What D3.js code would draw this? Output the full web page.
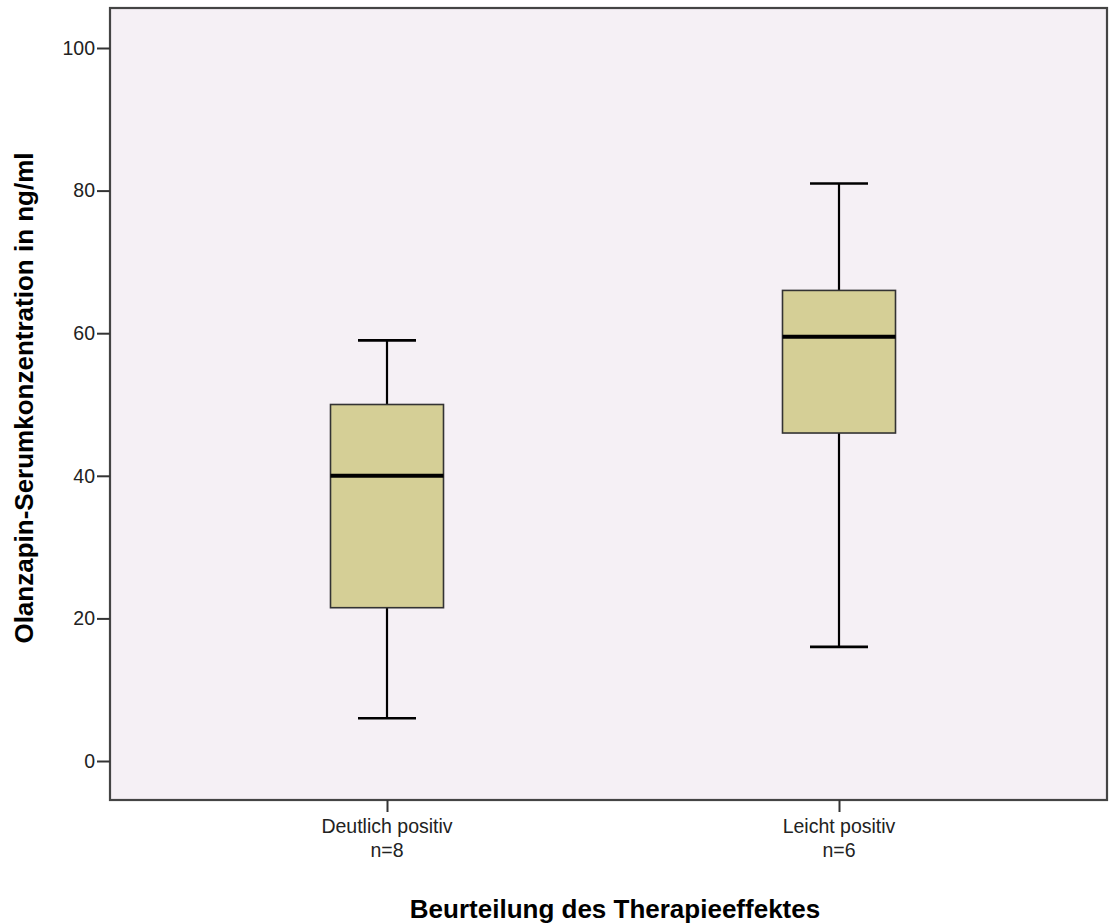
<!DOCTYPE html>
<html>
<head>
<meta charset="utf-8">
<script src="https://cdn.jsdelivr.net/npm/d3@7"></script>
<style>
  html, body { margin: 0; padding: 0; background: #ffffff; }
  svg { display: block; font-family: "Liberation Sans", Arial, sans-serif; }
</style>
</head>
<body>
<svg id="chart" width="1109" height="924"></svg>
<script>
// Box plot: Olanzapine serum concentration by rated therapy effect
const categories = ["Deutlich positiv", "Leicht positiv"];
const sampleSizes = ["n=8", "n=6"];
const whiskerLow = [6, 16];
const quartile1 = [21.5, 46];
const medians = [40, 59.5];
const quartile3 = [50, 66];
const whiskerHigh = [59, 81];
const yTicks = [0, 20, 40, 60, 80, 100];

const svg = d3.select("#chart");
const frame = { left: 110, top: 8, right: 1107, bottom: 800 };

const x = d3.scalePoint()
  .domain(categories)
  .range([387, 839]);

const y = d3.scaleLinear()
  .domain([0, 100])
  .range([761, 48]);

// plot background
svg.append("rect")
  .attr("x", frame.left).attr("y", frame.top)
  .attr("width", frame.right - frame.left)
  .attr("height", frame.bottom - frame.top)
  .attr("fill", "#f5f0f5");

const boxWidth = 113;
const capWidth = 58;

const data = categories.map((c, i) => ({
  cat: c, lo: whiskerLow[i], q1: quartile1[i], med: medians[i], q3: quartile3[i], hi: whiskerHigh[i]
}));

const g = svg.append("g");
data.forEach(d => {
  const cx = x(d.cat);
  // whiskers
  g.append("line").attr("x1", cx).attr("x2", cx)
    .attr("y1", y(d.hi)).attr("y2", y(d.q3))
    .attr("stroke", "#000").attr("stroke-width", 2.2);
  g.append("line").attr("x1", cx).attr("x2", cx)
    .attr("y1", y(d.q1)).attr("y2", y(d.lo))
    .attr("stroke", "#000").attr("stroke-width", 2.2);
  // caps
  [d.hi, d.lo].forEach(v => {
    g.append("line")
      .attr("x1", cx - capWidth / 2).attr("x2", cx + capWidth / 2)
      .attr("y1", y(v)).attr("y2", y(v))
      .attr("stroke", "#000").attr("stroke-width", 2.6);
  });
  // box
  g.append("rect")
    .attr("x", cx - boxWidth / 2).attr("y", y(d.q3))
    .attr("width", boxWidth).attr("height", y(d.q1) - y(d.q3))
    .attr("fill", "#d5cf96").attr("stroke", "#333").attr("stroke-width", 1.6);
  // median
  g.append("line")
    .attr("x1", cx - boxWidth / 2).attr("x2", cx + boxWidth / 2)
    .attr("y1", y(d.med)).attr("y2", y(d.med))
    .attr("stroke", "#000").attr("stroke-width", 4);
});

// frame
svg.append("rect")
  .attr("x", frame.left).attr("y", frame.top)
  .attr("width", frame.right - frame.left)
  .attr("height", frame.bottom - frame.top)
  .attr("fill", "none").attr("stroke", "#444").attr("stroke-width", 2.2);

// y axis
const yAxis = svg.append("g")
  .attr("transform", `translate(${frame.left},0)`)
  .call(d3.axisLeft(y).tickValues(yTicks).tickSize(13).tickPadding(2));
yAxis.select(".domain").remove();
yAxis.selectAll(".tick line").attr("stroke", "#333").attr("stroke-width", 2);
yAxis.selectAll(".tick text")
  .attr("font-size", 19.5).attr("fill", "#222")
  .attr("font-family", "Liberation Sans, Arial, sans-serif");

// x axis
const xAxis = svg.append("g")
  .attr("transform", `translate(0,${frame.bottom})`)
  .call(d3.axisBottom(x).tickSize(12).tickFormat(() => ""));
xAxis.select(".domain").remove();
xAxis.selectAll(".tick line").attr("stroke", "#333").attr("stroke-width", 2);

categories.forEach((c, i) => {
  const t = svg.append("text")
    .attr("x", x(c)).attr("y", 833)
    .attr("text-anchor", "middle")
    .attr("font-size", 19.5).attr("fill", "#222");
  t.append("tspan").attr("x", x(c)).text(c);
  t.append("tspan").attr("x", x(c)).attr("dy", 24).text(sampleSizes[i]);
});

// axis titles
svg.append("text")
  .attr("x", 615).attr("y", 918)
  .attr("text-anchor", "middle")
  .attr("font-size", 26).attr("font-weight", "bold").attr("fill", "#000")
  .text("Beurteilung des Therapieeffektes");

svg.append("text")
  .attr("transform", "translate(33,398) rotate(-90)")
  .attr("text-anchor", "middle")
  .attr("font-size", 26).attr("font-weight", "bold").attr("fill", "#000")
  .text("Olanzapin-Serumkonzentration in ng/ml");
</script>
</body>
</html>
